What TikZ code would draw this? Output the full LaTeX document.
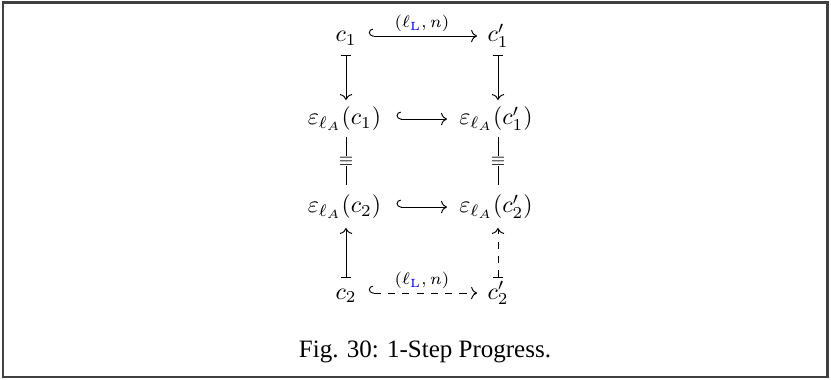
\documentclass[tikz,border=0pt]{standalone}
\usepackage{amsmath}
\usepackage{fontspec}
\newfontfamily\capfont{Liberation Serif}
\usetikzlibrary{arrows,arrows.meta}
\begin{document}
\begin{tikzpicture}[x=0.42pt,y=-0.42pt,
  obj/.style={anchor=base,inner sep=0pt},
  cdarr/.style={line width=0.4pt,->},
  lbl/.style={font=\scriptsize,inner sep=1pt},
  eqlbl/.style={fill=white,inner sep=0.5pt,font=\scriptsize}]
\useasboundingbox (0,0) rectangle (831,380);
\draw[line width=0.9pt,draw=black!75] (3,2.5) rectangle (827.5,377);
% nodes
\node[obj] (c1)  at (346,42)  {$c_1$};
\node[obj] (c1p) at (498,42)  {$c_1'$};
\node[obj] (e1)  at (344.5,125) {$\varepsilon_{\ell_A}(c_1)$};
\node[obj] (e1p) at (496,125) {$\varepsilon_{\ell_A}(c_1')$};
\node[obj] (e2)  at (344.5,213) {$\varepsilon_{\ell_A}(c_2)$};
\node[obj] (e2p) at (496,213) {$\varepsilon_{\ell_A}(c_2')$};
\node[obj] (c2)  at (346,299) {$c_2$};
\node[obj] (c2p) at (498,299) {$c_2'$};
% top
\coordinate (t1) at ([yshift=2.5pt]c1.base east);
\draw[cdarr,right hook->,shorten <=5pt,shorten >=4.2pt] (t1) -- (t1 -| c1p.west) node[lbl,midway,above=0.5pt] {$(\ell_{\textcolor{blue}{\mathrm{L}}},n)$};
% bottom
\coordinate (b1) at ([yshift=2.5pt]c2.base east);
\draw[cdarr,right hook->,dashed,shorten <=5pt,shorten >=4.2pt] (b1) -- (b1 -| c2p.west) node[lbl,midway,above=0.5pt] {$(\ell_{\textcolor{blue}{\mathrm{L}}},n)$};
% middle
\coordinate (m1) at ([yshift=2.5pt]e1.base east);
\draw[cdarr,right hook->,shorten <=6.3pt,shorten >=5pt] (m1) -- (m1 -| e1p.west);
\coordinate (m2) at ([yshift=2.5pt]e2.base east);
\draw[cdarr,right hook->,shorten <=6.3pt,shorten >=5pt] (m2) -- (m2 -| e2p.west);
% verticals
\draw[cdarr,|->] ([yshift=-5.46pt]c1.base) -- ([yshift=10.5pt]c1.base |- e1.base);
\draw[cdarr,|->] ([yshift=-5.46pt]c1p.base) -- ([yshift=10.5pt]c1p.base |- e1p.base);
\draw[cdarr,-] ([yshift=-5pt]c1.base |- e1.base) -- ([yshift=11.8pt]c1.base |- e2.base) node[eqlbl,midway] {$\equiv$};
\draw[cdarr,-] ([yshift=-5pt]c1p.base |- e1p.base) -- ([yshift=11.8pt]c1p.base |- e2p.base) node[eqlbl,midway] {$\equiv$};
\draw[cdarr,|->] ([yshift=8.8pt]c2.base) -- ([yshift=-6.3pt]c2.base |- e2.base);
\draw[cdarr,|->,dashed] ([yshift=8.8pt]c2p.base) -- ([yshift=-6.3pt]c2p.base |- e2p.base);
% caption
\node[anchor=base,inner sep=0pt] (cap) at (425,357) {\capfont\fontsize{10.5pt}{12pt}\selectfont Fig. 30: 1-Step Progress.};
\end{tikzpicture}
\end{document}
